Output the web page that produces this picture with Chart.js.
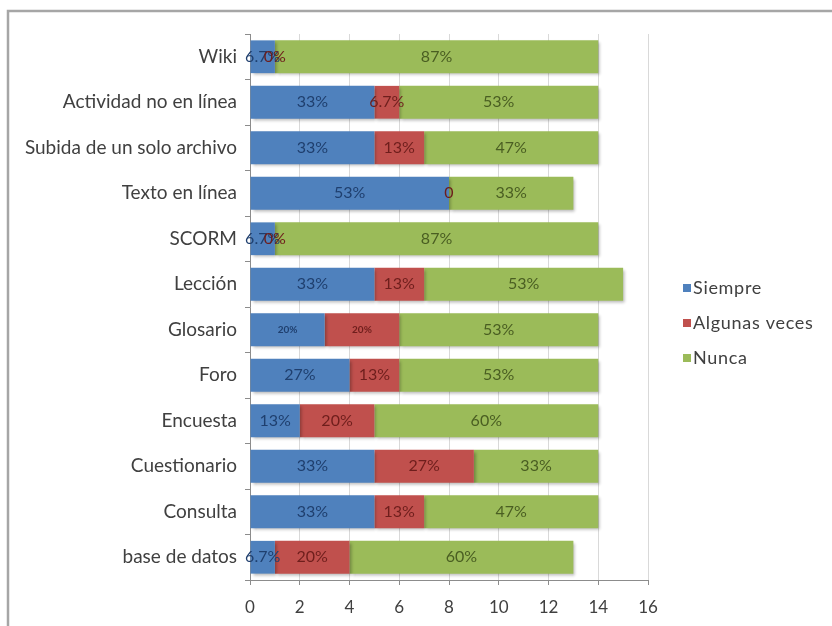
<!DOCTYPE html>
<html>
<head>
<meta charset="utf-8">
<script src="https://cdn.jsdelivr.net/npm/chart.js@4.4.1/dist/chart.umd.min.js"></script>
<style>
    html, body { margin: 0; padding: 0; background: #ffffff; }
    #wrap { position: absolute; left: 0; top: 0; width: 832px; height: 626px; }
</style>
</head>
<body>
<div id="wrap"><canvas id="chart" width="832" height="626"></canvas></div>
<script>
// Categories, top to bottom
const categories = [
    'Wiki', 'Actividad no en línea', 'Subida de un solo archivo', 'Texto en línea',
    'SCORM', 'Lección', 'Glosario', 'Foro', 'Encuesta', 'Cuestionario',
    'Consulta', 'base de datos'
];

// Counts per series
const siempre  = [1, 5, 5, 8, 1, 5, 3, 4, 2, 5, 5, 1];
const algunas  = [0, 1, 2, 0, 0, 2, 3, 2, 3, 4, 2, 3];
const nunca    = [13, 8, 7, 5, 13, 8, 8, 8, 9, 5, 7, 9];

// Data labels as printed on the bars
const siempreLabels = ['6.7%', '33%', '33%', '53%', '6.7%', '33%', '20%', '27%', '13%', '33%', '33%', '6.7%'];
const algunasLabels = ['0%', '6.7%', '13%', '0', '0%', '13%', '20%', '13%', '20%', '27%', '13%', '20%'];
const nuncaLabels   = ['87%', '53%', '47%', '33%', '87%', '53%', '53%', '53%', '60%', '33%', '47%', '60%'];

const xTicks = [0, 2, 4, 6, 8, 10, 12, 14, 16];

const FONT = 'Lato, "Open Sans", sans-serif';

const COLORS = {
    siempre: '#4f81bd',
    algunas: '#c0504d',
    nunca: '#9bbb59',
    siempreText: '#1f3f6e',
    algunasText: '#6e1e1c',
    nuncaText: '#4a5e22'
};

// Grey frame round the chart (right and bottom edges run off the page)
const framePlugin = {
    id: 'frame',
    beforeDraw(chart) {
        const ctx = chart.ctx;
        ctx.save();
        ctx.strokeStyle = '#a6a6a6';
        ctx.lineWidth = 2.5;
        ctx.strokeRect(8, 11, 840, 640);
        ctx.restore();
    }
};

// Soft drop shadow under the bars
const shadowPlugin = {
    id: 'barShadow',
    beforeDatasetsDraw(chart) {
        const ctx = chart.ctx;
        ctx.save();
        ctx.shadowColor = 'rgba(0,0,0,0.28)';
        ctx.shadowOffsetX = 2;
        ctx.shadowOffsetY = 2;
        ctx.shadowBlur = 3;
    },
    afterDatasetsDraw(chart) {
        chart.ctx.restore();
    }
};

// Centered value labels on each segment
const valueLabelPlugin = {
    id: 'valueLabels',
    afterDatasetsDraw(chart) {
        const ctx = chart.ctx;
        ctx.save();
        ctx.textAlign = 'center';
        ctx.textBaseline = 'middle';
        chart.data.datasets.forEach((ds, i) => {
            const meta = chart.getDatasetMeta(i);
            meta.data.forEach((bar, j) => {
                const small = categories[j] === 'Glosario' && i < 2;
                ctx.font = small ? 'bold 10px ' + FONT : '16px ' + FONT;
                ctx.fillStyle = ds.textColor;
                ctx.fillText(ds.valueLabels[j], (bar.x + bar.base) / 2, bar.y);
            });
        });
        ctx.restore();
    }
};

// Legend at the right, built from the datasets
const legendPlugin = {
    id: 'sideLegend',
    afterDraw(chart) {
        const ctx = chart.ctx;
        ctx.save();
        ctx.font = '18px ' + FONT;
        ctx.letterSpacing = '0.7px';
        ctx.textBaseline = 'middle';
        ctx.textAlign = 'left';
        chart.data.datasets.forEach((ds, i) => {
            const y = 288 + i * 35;
            ctx.fillStyle = ds.backgroundColor;
            ctx.fillRect(683, y - 4, 8, 8);
            ctx.fillStyle = '#404040';
            ctx.fillText(ds.label, 693, y);
        });
        ctx.restore();
    }
};

const ctx = document.getElementById('chart').getContext('2d');
new Chart(ctx, {
    type: 'bar',
    data: {
        labels: categories,
        datasets: [
            {
                label: 'Siempre',
                data: siempre,
                backgroundColor: COLORS.siempre,
                textColor: COLORS.siempreText,
                valueLabels: siempreLabels
            },
            {
                label: 'Algunas veces',
                data: algunas,
                backgroundColor: COLORS.algunas,
                textColor: COLORS.algunasText,
                valueLabels: algunasLabels
            },
            {
                label: 'Nunca',
                data: nunca,
                backgroundColor: COLORS.nunca,
                textColor: COLORS.nuncaText,
                valueLabels: nuncaLabels
            }
        ]
    },
    options: {
        indexAxis: 'y',
        responsive: false,
        animation: false,
        devicePixelRatio: 1,
        categoryPercentage: 0.72,
        barPercentage: 1,
        layout: { padding: { top: 34, right: 184, bottom: 6, left: 0 } },
        plugins: {
            legend: { display: false },
            tooltip: { enabled: false }
        },
        scales: {
            x: {
                stacked: true,
                min: 0,
                max: 16,
                afterBuildTicks: scale => { scale.ticks = xTicks.map(v => ({ value: v })); },
                afterFit: scale => { scale.height = 40; },
                grid: { color: '#d9d9d9', tickLength: 5, tickColor: '#8c8c8c' },
                border: { color: '#8c8c8c' },
                ticks: { color: '#404040', font: { size: 17, family: FONT }, padding: 12 }
            },
            y: {
                stacked: true,
                afterFit: scale => { scale.width = 250; },
                grid: { drawOnChartArea: false, offset: true, tickLength: 5, color: '#8c8c8c' },
                border: { color: '#8c8c8c' },
                ticks: { color: '#404040', font: { size: 19, family: FONT }, padding: 8 }
            }
        }
    },
    plugins: [framePlugin, shadowPlugin, valueLabelPlugin, legendPlugin]
});
</script>
</body>
</html>
